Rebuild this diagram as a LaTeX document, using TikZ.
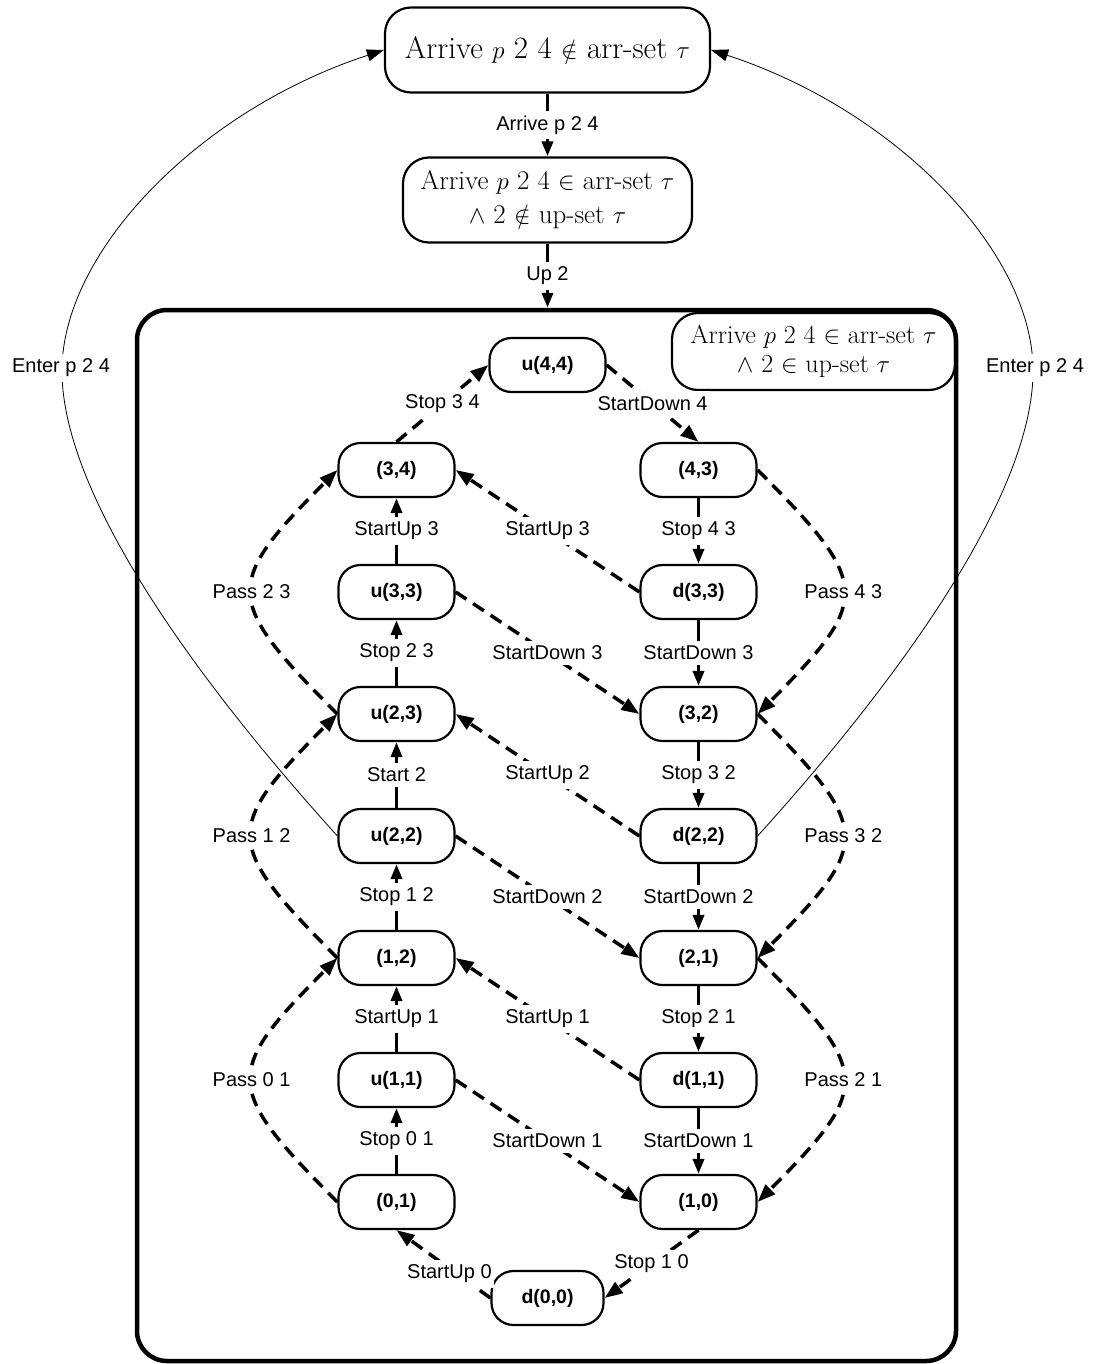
\documentclass[tikz,border=0pt]{standalone}
\usepackage{fontspec}
\setsansfont{Liberation Sans}
\usetikzlibrary{arrows.meta}

\begin{document}
\begin{tikzpicture}[x=1pt,y=1pt,
  state/.style={draw, line width=2.2pt, rounded corners=22pt, minimum width=116pt,
    minimum height=54pt, inner sep=0pt, font=\sffamily\bfseries\fontsize{19.5}{22}\selectfont},
  cond/.style={draw, line width=2.2pt, rounded corners=26pt, align=center, inner sep=0pt},
  lbl/.style={fill=white, inner xsep=2pt, inner ysep=5pt, font=\sffamily\fontsize{20}{22}\selectfont},
  stepedge/.style={line width=3.5pt, -{Triangle[length=15pt,width=11pt]}},
  dashedge/.style={line width=3.5pt, dash pattern=on 13pt off 8pt, -{Triangle[length=18pt,width=13pt]}},
  enteredge/.style={line width=0.8pt, -{Triangle[length=17pt,width=12pt]}},
]
\useasboundingbox (0,0) rectangle (1097,-1364);

% outer condition boxes
\node[cond, minimum width=325pt, minimum height=85pt, font=\fontsize{31}{36}\selectfont]
  (top) at (547.5,-50) {Arrive $p$ 2 4 $\notin$ arr-set $\tau$};
\node[cond, minimum width=289pt, minimum height=85pt, font=\fontsize{27}{34}\selectfont]
  (mid) at (547.5,-200) {Arrive $p$ 2 4 $\in$ arr-set $\tau$\\ $\wedge$ 2 $\notin$ up-set $\tau$};

% the enclosing state region
\node[draw, line width=4.5pt, rounded corners=30pt, minimum width=819pt, minimum height=1051pt]
  (frame) at (546.5,-835.5) {};
\node[cond, minimum width=283pt, minimum height=77pt, font=\fontsize{26}{29}\selectfont]
  (inv) at (813.5,-351.5) {Arrive $p$ 2 4 $\in$ arr-set $\tau$\\ $\wedge$ 2 $\in$ up-set $\tau$};

% states
\node[state] (u44) at (547.5,-365) {u(4,4)};
\node[state] (n34) at (396.5,-470) {(3,4)};
\node[state] (n43) at (698.5,-470) {(4,3)};
\node[state] (u33) at (396.5,-592) {u(3,3)};
\node[state] (d33) at (698.5,-592) {d(3,3)};
\node[state] (u23) at (396.5,-714) {u(2,3)};
\node[state] (n32) at (698.5,-714) {(3,2)};
\node[state] (u22) at (396.5,-836) {u(2,2)};
\node[state] (d22) at (698.5,-836) {d(2,2)};
\node[state] (n12) at (396.5,-958) {(1,2)};
\node[state] (n21) at (698.5,-958) {(2,1)};
\node[state] (u11) at (396.5,-1080) {u(1,1)};
\node[state] (d11) at (698.5,-1080) {d(1,1)};
\node[state] (n01) at (396.5,-1202) {(0,1)};
\node[state] (n10) at (698.5,-1202) {(1,0)};
\node[state, minimum width=112pt] (d00) at (547.5,-1298) {d(0,0)};

% entry into the region
\draw[stepedge] (top) -- node[lbl] {Arrive p 2 4} (mid);
\draw[stepedge] (mid.south) -- node[lbl] {Up 2} (mid.south |- frame.north);

% left column, moving up
\draw[stepedge] (u33) -- node[lbl] {StartUp 3} (n34);
\draw[stepedge] (u23) -- node[lbl] {Stop 2 3} (u33);
\draw[stepedge] (u22) -- node[lbl] {Start 2} (u23);
\draw[stepedge] (n12) -- node[lbl] {Stop 1 2} (u22);
\draw[stepedge] (u11) -- node[lbl] {StartUp 1} (n12);
\draw[stepedge] (n01) -- node[lbl] {Stop 0 1} (u11);

% right column, moving down
\draw[stepedge] (n43) -- node[lbl] {Stop 4 3} (d33);
\draw[stepedge] (d33) -- node[lbl] {StartDown 3} (n32);
\draw[stepedge] (n32) -- node[lbl] {Stop 3 2} (d22);
\draw[stepedge] (d22) -- node[lbl] {StartDown 2} (n21);
\draw[stepedge] (n21) -- node[lbl] {Stop 2 1} (d11);
\draw[stepedge] (d11) -- node[lbl] {StartDown 1} (n10);

% crossings between the columns
\draw[dashedge] (d33.west) -- node[lbl] {StartUp 3} (n34.east);
\draw[dashedge] (u33.east) -- node[lbl] {StartDown 3} (n32.west);
\draw[dashedge] (d22.west) -- node[lbl] {StartUp 2} (u23.east);
\draw[dashedge] (u22.east) -- node[lbl] {StartDown 2} (n21.west);
\draw[dashedge] (d11.west) -- node[lbl] {StartUp 1} (n12.east);
\draw[dashedge] (u11.east) -- node[lbl] {StartDown 1} (n10.west);

% top and bottom turns
\draw[dashedge] (n34.north) -- node[lbl] {Stop 3 4} (u44.west);
\draw[dashedge] (u44.east) -- node[lbl] {StartDown 4} (n43.north);
\draw[dashedge] (d00.west) -- node[lbl, xshift=6pt, yshift=-10pt] {StartUp 0} (n01.south);
\draw[dashedge] (n10.south) -- node[lbl] {Stop 1 0} (d00.east);

% passing a floor without stopping
\draw[dashedge] (n01.west) to[out=135,in=-135,looseness=1.7] node[lbl] {Pass 0 1} (n12.west);
\draw[dashedge] (n12.west) to[out=135,in=-135,looseness=1.7] node[lbl] {Pass 1 2} (u23.west);
\draw[dashedge] (u23.west) to[out=135,in=-135,looseness=1.7] node[lbl] {Pass 2 3} (n34.west);
\draw[dashedge] (n43.east) to[out=-45,in=45,looseness=1.7] node[lbl] {Pass 4 3} (n32.east);
\draw[dashedge] (n32.east) to[out=-45,in=45,looseness=1.7] node[lbl] {Pass 3 2} (n21.east);
\draw[dashedge] (n21.east) to[out=-45,in=45,looseness=1.7] node[lbl] {Pass 2 1} (n10.east);

% leaving the region at floor 2
\coordinate (eL) at (62,-368);
\coordinate (eR) at (1033,-368);
\draw[enteredge] (u22.west) .. controls (190,-673) and (60,-490) .. (eL)
  .. controls (64,-250) and (200,-110) .. (top.west);
\draw[enteredge] (d22.east) .. controls (905,-673) and (1035,-490) .. (eR)
  .. controls (1031,-250) and (895,-110) .. (top.east);
\node[lbl] (enterL) at (61,-368) {Enter p 2 4};
\node[lbl] (enterR) at (1035,-368) {Enter p 2 4};
\end{tikzpicture}
\end{document}
